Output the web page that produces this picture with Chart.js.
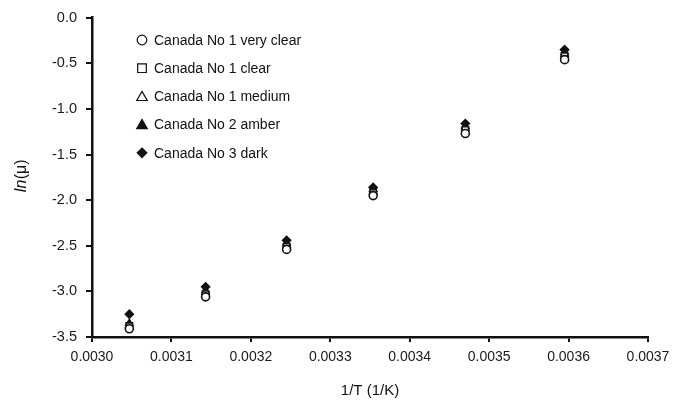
<!DOCTYPE html>
<html>
<head>
<meta charset="utf-8">
<script src="https://cdn.jsdelivr.net/npm/chart.js@4/dist/chart.umd.min.js"></script>
<style>
  html, body { margin: 0; padding: 0; background: #fff; }
  #wrap { width: 681px; height: 404px; position: relative; }
</style>
</head>
<body>
<div id="wrap"><canvas id="chartCanvasId"></canvas></div>
<script>
"use strict";

// 1/T values (1/K) for each test temperature
const invT      = [0.003047, 0.003143, 0.003245, 0.003354, 0.003470, 0.003595]

// ln(viscosity) per honey grade
const veryClear = [-3.41, -3.06, -2.54, -1.95, -1.27, -0.46]
const clear     = [-3.38, -3.03, -2.51, -1.92, -1.23, -0.42]
const medium    = [-3.37, -3.01, -2.49, -1.90, -1.21, -0.40]
const amber     = [-3.35, -2.99, -2.47, -1.88, -1.19, -0.38]
const dark      = [-3.25, -2.95, -2.44, -1.86, -1.16, -0.35]

const seriesNames = ["Canada No 1 very clear", "Canada No 1 clear", "Canada No 1 medium",
                     "Canada No 2 amber", "Canada No 3 dark"]
const seriesData  = [veryClear, clear, medium, amber, dark]

const xTicks = [0.0030, 0.0031, 0.0032, 0.0033, 0.0034, 0.0035, 0.0036, 0.0037]
const yTicks = [0.0, -0.5, -1.0, -1.5, -2.0, -2.5, -3.0, -3.5]

const ink = '#111'
const fontFamily = '"Liberation Sans", Arial, sans-serif'
const styles = [
    { pointStyle: 'circle',   fill: '#fff' },
    { pointStyle: 'rect',     fill: '#fff' },
    { pointStyle: 'triangle', fill: '#fff' },
    { pointStyle: 'triangle', fill: ink },
    { pointStyle: 'rectRot',  fill: ink },
]

function toPoints(ys) {
    let pts = []
    for (let i = 0; i < invT.length; i++) {
        pts.push({ x: invT[i], y: ys[i] })
    }
    return pts
}

let datasets = []
for (let i = 0; i < seriesData.length; i++) {
    datasets.push({
        label: seriesNames[i],
        data: toPoints(seriesData[i]),
        pointStyle: styles[i].pointStyle,
        backgroundColor: styles[i].fill,
        borderColor: ink,
        borderWidth: 1.6,
        pointRadius: styles[i].pointStyle === 'rect' ? 4.5 : 4,
        showLine: false,
    })
}

function marker(ctx, style, x, y, r) {
    ctx.beginPath()
    if (style === 'circle') {
        ctx.arc(x, y, r, 0, Math.PI * 2)
    } else if (style === 'rect') {
        ctx.rect(x - r * 0.9, y - r * 0.9, r * 1.8, r * 1.8)
    } else if (style === 'triangle') {
        ctx.moveTo(x, y - r * 1.05)
        ctx.lineTo(x + r * 1.1, y + r * 0.85)
        ctx.lineTo(x - r * 1.1, y + r * 0.85)
        ctx.closePath()
    } else {
        ctx.moveTo(x, y - r)
        ctx.lineTo(x + r, y)
        ctx.lineTo(x, y + r)
        ctx.lineTo(x - r, y)
        ctx.closePath()
    }
    ctx.fill()
    ctx.stroke()
}

// legend sits inside the plot, upper left; also the mixed-style y title
const legendInside = {
    id: 'legendInside',
    afterDraw(chart) {
        const ctx = chart.ctx
        ctx.save()
        ctx.font = '14px ' + fontFamily
        ctx.textBaseline = 'middle'
        ctx.lineWidth = 1.2
        ctx.strokeStyle = ink
        for (let i = 0; i < seriesNames.length; i++) {
            const y = 40 + i * 28.2
            ctx.fillStyle = styles[i].fill
            marker(ctx, styles[i].pointStyle, 142, y, 4.8)
            ctx.fillStyle = ink
            ctx.fillText(seriesNames[i], 154, y + 1)
        }
        // y axis title: ln italic, (μ) upright
        ctx.translate(22, 176)
        ctx.rotate(-Math.PI / 2)
        ctx.textBaseline = 'middle'
        ctx.font = 'italic 16px ' + fontFamily
        const w1 = ctx.measureText('ln').width
        ctx.font = '16px ' + fontFamily
        const w2 = ctx.measureText('(μ)').width
        let sx = -(w1 + w2) / 2
        ctx.font = 'italic 16px ' + fontFamily
        ctx.fillText('ln', sx, 0)
        ctx.font = '16px ' + fontFamily
        ctx.fillText('(μ)', sx + w1 + 0.5, 0)
        ctx.restore()
    }
}

const chartCanvas  = document.getElementById('chartCanvasId')
const chartContext = chartCanvas.getContext('2d')

const myChart = new Chart(chartContext, {
    type: 'scatter',
    data: { datasets: datasets },
    options: {
        responsive: true,
        maintainAspectRatio: false,
        animation: false,
        layout: { padding: { left: 0, right: 33, top: 11, bottom: 0 } },
        plugins: {
            legend: { display: false },
            tooltip: { enabled: false },
        },
        scales: {
            x: {
                type: 'linear',
                min: 0.0030,
                max: 0.0037,
                afterFit: (s) => { s.height = 67 },
                afterBuildTicks: (s) => { s.ticks = xTicks.map(v => ({ value: v })) },
                border: { display: true, color: ink, width: 2.5 },
                grid: { drawOnChartArea: false, drawTicks: true, tickLength: 5, color: ink, lineWidth: 2 },
                ticks: {
                    color: '#1a1a1a',
                    padding: 7,
                    maxRotation: 0,
                    font: { family: fontFamily, size: 14 },
                    callback: (v) => Number(v).toFixed(4),
                },
                title: {
                    display: true,
                    text: '1/T (1/K)',
                    color: ink,
                    padding: { top: 0, bottom: 4 },
                    font: { family: fontFamily, size: 15 },
                },
            },
            y: {
                type: 'linear',
                min: -3.5,
                max: 0.0,
                afterFit: (s) => { s.width = 92 },
                afterBuildTicks: (s) => { s.ticks = yTicks.map(v => ({ value: v })) },
                border: { display: true, color: ink, width: 2.5 },
                grid: { drawOnChartArea: false, drawTicks: true, tickLength: 6, color: ink, lineWidth: 2 },
                ticks: {
                    color: '#1a1a1a',
                    padding: 9,
                    font: { family: fontFamily, size: 14.5 },
                    callback: (v) => Number(v).toFixed(1),
                },
            },
        },
    },
    plugins: [legendInside],
})
</script>
</body>
</html>
